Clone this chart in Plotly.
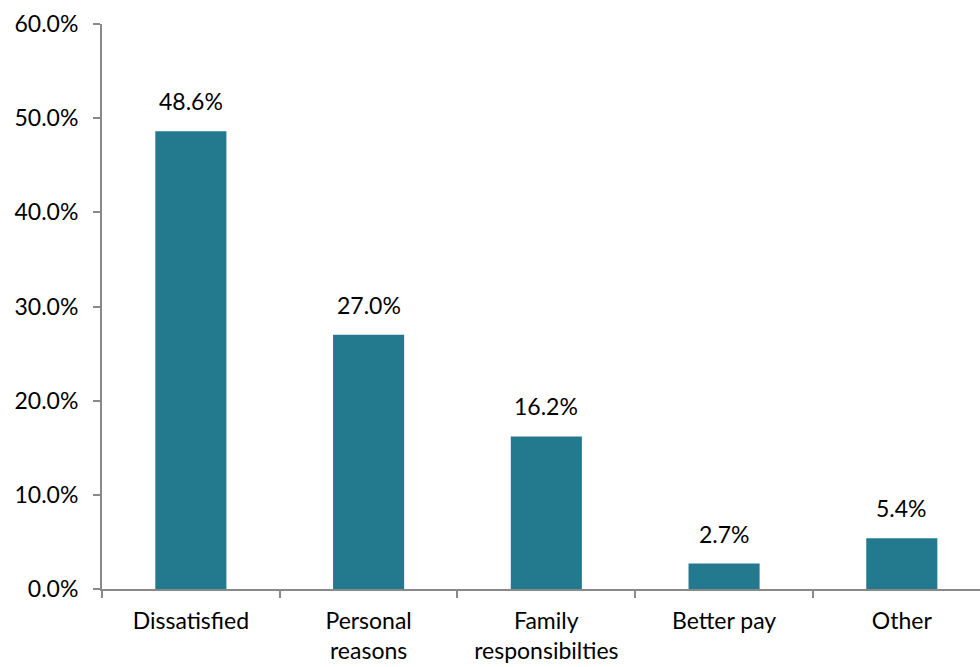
import plotly.graph_objects as go

categories = ["Dissatisfied", "Personal<br>reasons", "Family<br>responsibilties", "Better pay", "Other"]
values = [48.6, 27.0, 16.2, 2.7, 5.4]
value_labels = ["48.6%", "27.0%", "16.2%", "2.7%", "5.4%"]
y_ticks = [0, 10, 20, 30, 40, 50, 60]
y_tick_labels = ["0.0%", "10.0%", "20.0%", "30.0%", "40.0%", "50.0%", "60.0%"]

FONT = "Lato"
FS = 23
BAR = "#23798E"
AXIS = "#898989"

fig = go.Figure()
fig.add_trace(go.Bar(
    x=categories, y=values, width=0.4,
    marker=dict(color=BAR, line=dict(width=0)),
    hoverinfo="skip",
))
for c, v, t in zip(categories, values, value_labels):
    fig.add_annotation(x=c, y=v, text=t, showarrow=False, yanchor="bottom",
                       yshift=14, font=dict(family=FONT, size=FS, color="#000"))

fig.update_layout(
    width=980, height=667,
    margin=dict(l=102, r=0, t=24, b=78),
    paper_bgcolor="white", plot_bgcolor="white",
    showlegend=False,
    font=dict(family=FONT, size=FS, color="#000"),
    bargap=0.6,
)
fig.update_xaxes(
    type="category", range=[-0.5, 4.44],
    showline=True, linecolor=AXIS, linewidth=2,
    ticks="outside", tickson="boundaries", ticklen=7, tickcolor=AXIS, tickwidth=2,
    showgrid=False, zeroline=False, ticklabelstandoff=10,
    tickfont=dict(family=FONT, size=FS, color="#000"),
)
fig.update_yaxes(
    range=[0, 60], tickvals=y_ticks, ticktext=y_tick_labels,
    showline=True, linecolor=AXIS, linewidth=2,
    ticks="outside", ticklen=7, tickcolor=AXIS, tickwidth=2,
    showgrid=False, zeroline=False, ticklabelstandoff=10,
    tickfont=dict(family=FONT, size=FS, color="#000"),
)

fig.write_html("out.html")
